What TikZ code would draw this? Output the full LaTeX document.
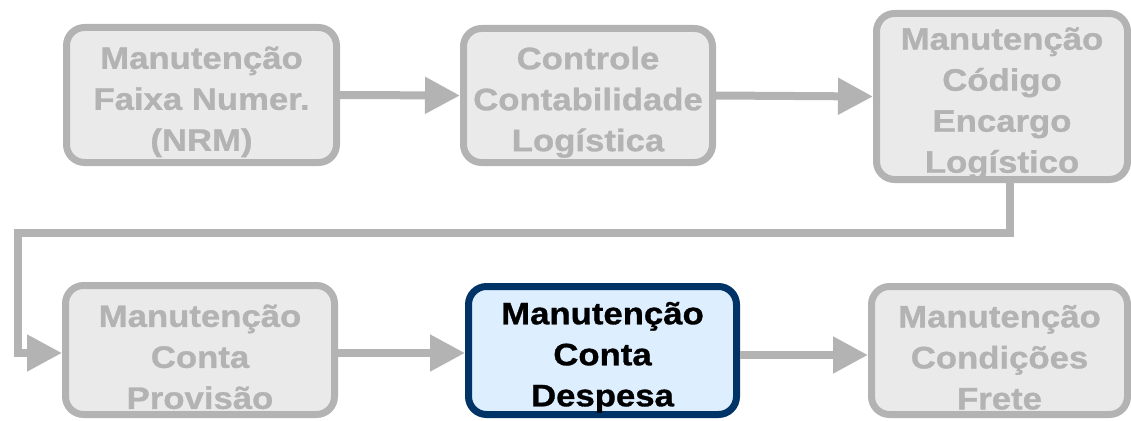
\documentclass[tikz,border=0pt]{standalone}
\usepackage{fontspec}
\setmainfont{Liberation Sans}[FakeStretch=1.12,FakeBold=1]
\usetikzlibrary{arrows.meta}
\definecolor{grayline}{HTML}{B3B3B3}
\definecolor{grayfill}{HTML}{EAEAEA}
\definecolor{navy}{HTML}{003366}
\definecolor{lightblue}{HTML}{DDEEFF}
\newcommand{\toppad}{\rule{0pt}{36pt}}
\tikzset{
  stepbox/.style={draw=grayline, fill=grayfill, text=grayline, line width=7pt,
    rounded corners=18pt, inner sep=0pt, align=center,
    font=\fontsize{31}{41}\selectfont\bfseries},
  activebox/.style={stepbox, draw=navy, fill=lightblue, text=black},
  flow/.style={draw=grayline, line width=8pt,
    -{Triangle[length=35pt,width=35pt]}},
}
\begin{document}
\begin{tikzpicture}[x=1pt,y=-1pt]
\useasboundingbox (0,0) rectangle (1131,420);
\node[stepbox, minimum width=270pt, minimum height=135pt] (b1) at (201.5,95) {\toppad Manutenção\\Faixa Numer.\\(NRM)};
\node[stepbox, minimum width=249pt, minimum height=134pt] (b2) at (588,95.5) {\toppad Controle\\Contabilidade\\Logística};
\node[stepbox, minimum width=251pt, minimum height=166pt] (b3) at (1002,96.5) {\toppad Manutenção\\Código\\Encargo\\Logístico};
\node[stepbox, minimum width=269pt, minimum height=129pt] (b4) at (200,350) {\toppad Manutenção\\Conta\\Provisão};
\node[activebox, minimum width=268pt, minimum height=128pt] (b5) at (602.5,350.5) {\toppad Manutenção\\Conta\\Despesa};
\node[stepbox, minimum width=256pt, minimum height=128pt] (b6) at (999.5,350.5) {\toppad Manutenção\\Condições\\Frete};
\coordinate (c1) at (1010,233);
\coordinate (c2) at (17.5,233);
\coordinate (c3) at (17.5,353);
\draw[flow] (b1.east) -- (b2.west);
\draw[flow] (b2.east) -- (b3.west);
\draw[flow] (b3.south -| c1) -- (c1) -- (c2) -- (c3) -- (c3 -| b4.west);
\draw[flow] (b4.east |- c3) -- (b5.west |- c3);
\draw[flow] ([yshift=-4.5pt]b5.east) -- ([yshift=-4.5pt]b6.west);
\end{tikzpicture}
\end{document}
